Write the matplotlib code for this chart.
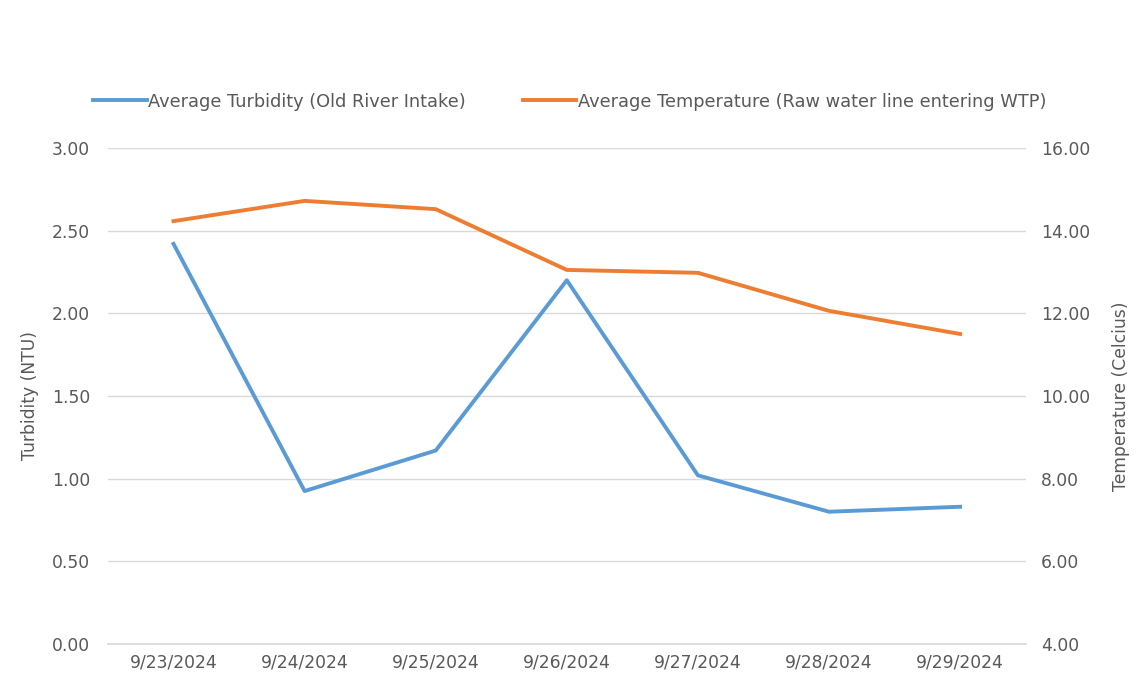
import matplotlib.pyplot as plt
from matplotlib.ticker import FormatStrFormatter

plt.rcParams['font.family'] = ['DejaVu Sans']

dates = ["9/23/2024", "9/24/2024", "9/25/2024", "9/26/2024",
         "9/27/2024", "9/28/2024", "9/29/2024"]
turbidity = [2.42, 0.925, 1.17, 2.20, 1.02, 0.80, 0.83]
temperature = [14.23, 14.72, 14.52, 13.05, 12.98, 12.06, 11.50]

blue = "#5b9bd5"
orange = "#ed7d31"
grey = "#595959"
grid_c = "#d9d9d9"
fs = 12.3

fig = plt.figure(figsize=(11.4, 6.87), dpi=100)
ax = fig.add_axes([0.0947, 0.0626, 0.805, 0.722])
ax2 = ax.twinx()

x = range(len(dates))
l1, = ax.plot(x, turbidity, color=blue, lw=2.8,
              label="Average Turbidity (Old River Intake)")
l2, = ax2.plot(x, temperature, color=orange, lw=2.8,
               label="Average Temperature (Raw water line entering WTP)")

ax.set_xlim(-0.5, len(dates) - 0.5)
ax.set_ylim(0, 3)
ax.set_yticks([0, 0.5, 1, 1.5, 2, 2.5, 3])
ax2.set_ylim(4, 16)
ax2.set_yticks([4, 6, 8, 10, 12, 14, 16])
ax.yaxis.set_major_formatter(FormatStrFormatter("%.2f"))
ax2.yaxis.set_major_formatter(FormatStrFormatter("%.2f"))
ax.set_xticks(list(x))
ax.set_xticklabels(dates)

ax.grid(axis="y", color=grid_c, lw=1)
ax.axhline(0, color=grid_c, lw=1.2, clip_on=False, zorder=0)
ax.set_axisbelow(True)
for a in (ax, ax2):
    for s in a.spines.values():
        s.set_visible(False)
    a.tick_params(length=0, colors=grey, labelsize=fs)
ax.tick_params(axis="y", pad=13)
ax2.tick_params(axis="y", pad=11)
ax.tick_params(axis="x", pad=7)

ax.set_ylabel("Turbidity (NTU)", color=grey, fontsize=fs, labelpad=9)
ax2.set_ylabel("Temperature (Celcius)", color=grey, fontsize=fs, labelpad=16)

fig.legend(handles=[l1, l2], loc="center", bbox_to_anchor=(0.5, 0.852),
           ncol=2, frameon=False, fontsize=12.8, labelcolor=grey,
           handlelength=3.0, handletextpad=0.1, columnspacing=3.2)

fig.savefig("out.png", dpi=100)
